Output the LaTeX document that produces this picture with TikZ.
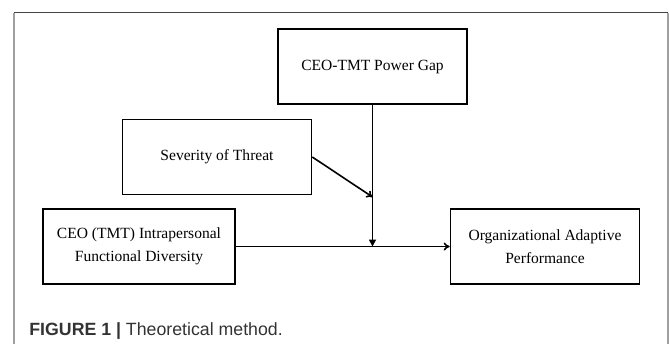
\documentclass[tikz,border=0pt]{standalone}
\usepackage{fontspec}
\setmainfont{Liberation Serif}
\newfontfamily\capfont{Liberation Sans}
\usetikzlibrary{positioning, arrows.meta}
\definecolor{framegray}{HTML}{A0A0A0}
\definecolor{framedark}{HTML}{444444}
\definecolor{captext}{HTML}{333333}
\tikzstyle{vblock} = [rectangle, draw, line width=0.8bp, minimum width=94.5bp, 
minimum height=37.5bp, align=center, inner sep=0pt, font=\fontsize{7.8}{11.5}\selectfont]
\tikzstyle{arrow} = [line width=0.8bp,-{To[length=3bp,width=4bp]}]
\tikzstyle{modarrow} = [line width=0.8bp,-{Triangle[length=3.5bp,width=3.5bp]}]

\begin{document}
\begin{tikzpicture}[x=0.5bp, y=-0.5bp]
    \useasboundingbox (0,0) rectangle (669,344);
    % frame round the figure
    \draw[framegray, line width=1bp] (14,344) -- (14,12.5);
    \draw[framegray, line width=1bp] (667.5,12.5) -- (667.5,344);
    \draw[framedark, line width=0.6bp] (14,12.5) -- (667.5,12.5);

    \node (gap) [vblock] at (372.5,66.5) {CEO-TMT Power Gap};
    \node (threat) [vblock] at (217,157) {Severity of Threat};
    \node (div) [vblock, minimum width=96bp] at (139,246.5) {CEO (TMT) Intrapersonal\\Functional Diversity};
    \node (perf) [vblock] at (545,246.5) {Organizational Adaptive\\Performance};
    \coordinate (hit) at (372.5,197);

    \draw [arrow] (div) -- (perf);
    \draw [modarrow] (gap) -- (gap |- div.east);
    \draw [arrow] (threat.east) -- (hit);
    %\draw [arrow] (threat) -- (gap);

    \node (cap) [anchor=base west, text=captext, inner sep=0pt,
        font=\capfont\fontsize{8.9}{10}\selectfont] at (29,335) {\textbf{FIGURE 1 |} Theoretical method.};
\end{tikzpicture}
\end{document}
